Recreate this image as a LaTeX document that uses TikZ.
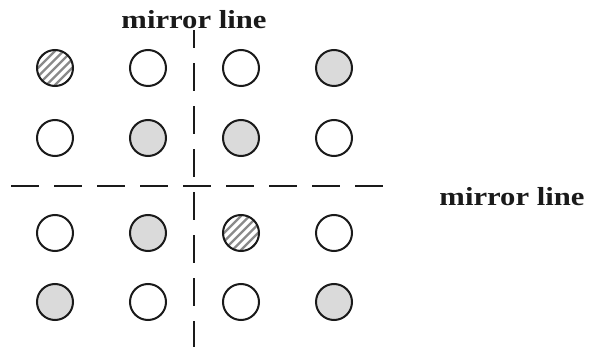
\documentclass[tikz,border=0pt]{standalone}
\usepackage{fontspec}
\setmainfont{Liberation Serif}
\usetikzlibrary{calc}
\definecolor{ink}{HTML}{1A1A1A}
\definecolor{ballgray}{HTML}{DADADA}
\definecolor{hatchgray}{HTML}{8A8A8A}
\tikzset{
  ball/.style={circle, draw=ink, line width=2pt, minimum size=36pt, inner sep=0pt, fill=white},
  grayball/.style={ball, fill=ballgray},
  hatchball/.style={ball, path picture={
    \foreach \k in {-3,...,3}{
      \draw[hatchgray, line width=2.4pt]
        ($(path picture bounding box.center)+(\k*8.5pt-22pt,-22pt)$) -- ++(44pt,44pt);
    }}},
  mirror/.style={draw=ink, line width=1.9pt, dash pattern=on 28pt off 15pt},
  lab/.style={font=\fontsize{26}{30}\selectfont\bfseries, text=ink, inner sep=0pt, anchor=base}
}
\newcommand{\wlab}[1]{\scalebox{1.18}[1]{#1}}
\begin{document}
\begin{tikzpicture}[x=1pt,y=-1pt]
\useasboundingbox (0,0) rectangle (589,347);
% mirror lines
\coordinate (hl) at (11,186);
\coordinate (hr) at (384,186);
\coordinate (vt) at (194,30);
\coordinate (vb) at (194,347);
\draw[mirror] (hl) -- (hr);
\draw[mirror, dash phase=9.5pt] (vt) -- (vb);
% labels
\node[lab] (ltop) at (194,29) {\wlab{mirror line}};
\node[lab] (lright) at (512,206) {\wlab{mirror line}};
% balls
\node[hatchball] (b11) at (55,68) {};
\node[ball]      (b12) at (148,68) {};
\node[ball]      (b13) at (241,68) {};
\node[grayball]  (b14) at (334,68) {};
\node[ball]      (b21) at (55,138) {};
\node[grayball]  (b22) at (148,138) {};
\node[grayball]  (b23) at (241,138) {};
\node[ball]      (b24) at (334,138) {};
\node[ball]      (b31) at (55,233) {};
\node[grayball]  (b32) at (148,233) {};
\node[hatchball] (b33) at (241,233) {};
\node[ball]      (b34) at (334,233) {};
\node[grayball]  (b41) at (55,302) {};
\node[ball]      (b42) at (148,302) {};
\node[ball]      (b43) at (241,302) {};
\node[grayball]  (b44) at (334,302) {};
\end{tikzpicture}
\end{document}
